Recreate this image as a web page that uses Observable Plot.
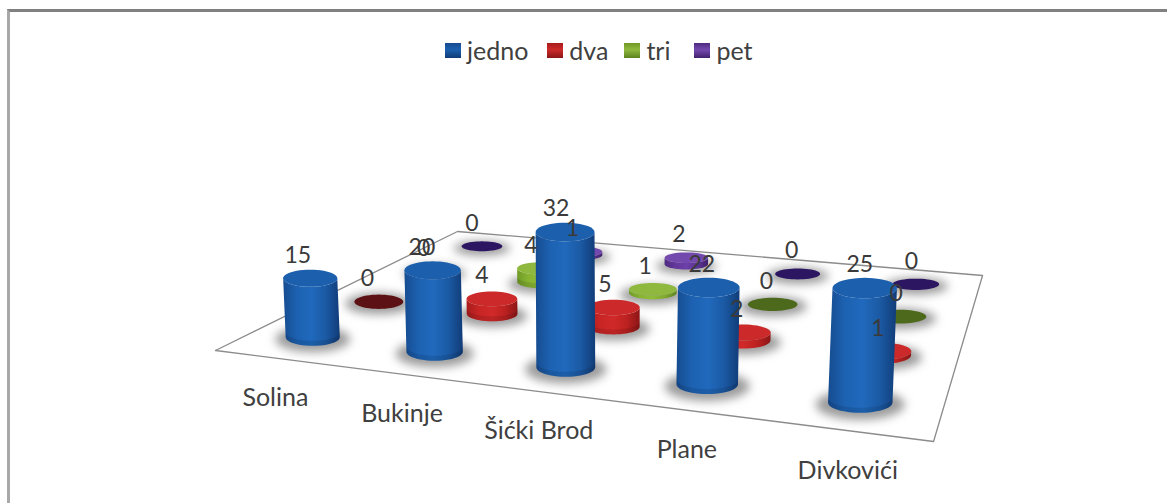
<!DOCTYPE html>
<html>
<head>
<meta charset="utf-8">
<script src="https://cdn.jsdelivr.net/npm/d3@7"></script>
<script src="https://cdn.jsdelivr.net/npm/@observablehq/plot@0.6"></script>
<style>
  html, body { margin: 0; padding: 0; background: #fff; }
  #chart { position: relative; width: 1167px; height: 503px; overflow: hidden; font-family: Lato, "Open Sans", sans-serif; }
  #frame { position: absolute; left: 7px; top: 9px; width: 1170px; height: 520px; box-sizing: border-box;
           border-top: 3px solid #808080; border-left: 3px solid #a8a8a8; }
  #legend { position: absolute; top: 35px; left: 445px; display: flex; align-items: center; font-size: 25px; color: #404040; line-height: 30px; }
  #legend span.item { display: flex; align-items: center; }
  #legend span.item:nth-child(1) { margin-right: 19px; }
  #legend span.item:nth-child(2) { margin-right: 16px; }
  #legend span.item:nth-child(3) { margin-right: 24px; }
  #legend i { display: inline-block; width: 16px; height: 15px; margin-right: 6px; }
  svg { position: absolute; left: 0; top: 0; }
</style>
</head>
<body>
<div id="chart"><div id="frame"></div><div id="legend"></div></div>
<script>
// Villages and household-size series
const villages = ["Solina", "Bukinje", "Šićki Brod", "Plane", "Divkovići"];
const seriesNames = ["jedno", "dva", "tri", "pet"];
const jedno = [15, 20, 32, 22, 25];
const dva = [0, 4, 5, 2, 1];
const tri = [0, 4, 1, 0, 0];
const pet = [0, 1, 2, 0, 0];
const seriesValues = [jedno, dva, tri, pet];

// Colours per series: side shading stops, lid, lid when the value is zero
const palette = [
  {side: ["#164c90", "#1d62b2", "#2069bc", "#1b5aa4", "#113c78"], lid: "#1c5fac", zero: "#1c5fac"},
  {side: ["#a81c1c", "#c92525", "#d12929", "#bd2121", "#8c1616"], lid: "#cc2a2a", zero: "#5c1214"},
  {side: ["#6f9a26", "#88b432", "#90bc38", "#80a82e", "#5e8420"], lid: "#8fb83f", zero: "#4d6a1c"},
  {side: ["#4e2a80", "#63389c", "#6c40a8", "#5c3494", "#42226e"], lid: "#7449ae", zero: "#2c1561"}
];

// Floor plane: maps (u along villages, v into depth) to the page through a perspective homography
const H = {a: 549, b: 417.7, c: 215, d: 11.1, e: -30.2, f: 350, g: -0.1812, h: 0.3845};
const depth = (u, v) => H.g * u + H.h * v + 1;
const floorPoint = (u, v) => ({
  x: (H.a * u + H.b * v + H.c) / depth(u, v),
  y: (H.d * u + H.e * v + H.f) / depth(u, v)
});
const unitHeight = 4.05;

// Geometry of one cylinder in page units
function cylinder(i, s, value) {
  const u = (i + 0.5) / villages.length;
  const v = (s + 0.5) / seriesNames.length;
  const w = depth(u, v);
  const base = floorPoint(u, v);
  const h = (unitHeight * value) / w;
  const rx = 28 / Math.pow(w, 1.15);
  const ry = rx * (0.33 - 0.1 * v);
  const top = {x: base.x + (base.x - 600) * h * 0.00015, y: base.y - h};
  return {id: `${i}-${s}`, village: villages[i], series: seriesNames[s], value, s, base, top, rx, ry};
}

const cylinders = seriesValues.flatMap((vals, s) => vals.map((value, i) => cylinder(i, s, value)));

const angles = d3.range(0, 25).map((k) => (k / 24) * Math.PI);

// Lower half of the silhouette between the lid and the base
const sideRows = (c) => angles.map((t) => ({
  id: c.id,
  x1: c.top.x + c.rx * Math.cos(t), y1: c.top.y + c.ry * Math.sin(t),
  x2: c.base.x + c.rx * Math.cos(t), y2: c.base.y + c.ry * Math.sin(t)
}));
// Darker band that rounds off the foot of a tall cylinder
const footRows = (c) => angles.map((t) => ({
  id: c.id,
  x1: c.base.x + c.rx * Math.cos(t), y1: c.base.y - 5 + c.ry * Math.sin(t),
  x2: c.base.x + c.rx * Math.cos(t), y2: c.base.y + c.ry * Math.sin(t)
}));
// Full ellipse as a two-sided area
const discRows = (c, center, grow = 1, stretch = 1, dy = 0) => angles.map((t) => ({
  id: c.id,
  x1: center.x + grow * c.rx * Math.cos(t), y1: center.y + dy - stretch * c.ry * Math.sin(t),
  x2: center.x + grow * c.rx * Math.cos(t), y2: center.y + dy + stretch * c.ry * Math.sin(t)
}));

const areaOpts = (fill, extra = {}) => ({x1: "x1", y1: "y1", x2: "x2", y2: "y2", z: "id", fill, ...extra});

// Shading defs shared by the cylinder sides
const gradients = () => {
  const defs = d3.create("svg:defs");
  palette.forEach((p, s) => {
    const g = defs.append("linearGradient").attr("id", `side-${s}`).attr("x1", 0).attr("x2", 1).attr("y1", 0).attr("y2", 0);
    p.side.forEach((c, k) => g.append("stop").attr("offset", k / (p.side.length - 1)).attr("stop-color", c));
  });
  return defs.node();
};

const floorCorners = [[0, 0], [1, 0], [1, 1], [0, 1], [0, 0]].map(([u, v]) => floorPoint(u, v));

const marks = [
  gradients,
  Plot.line(floorCorners, {x: "x", y: "y", stroke: "#8c8c8c", strokeWidth: 1.3, fill: "#fff"}),
  // Soft contact shadows on the floor
  Plot.area(cylinders.flatMap((c) => discRows(c, c.base, 1.38, 1.5, 2)),
    areaOpts("#5a5a5a", {fillOpacity: 0.6, imageFilter: "blur(5px)"}))
];

// Paint from the back row to the front row
for (let s = seriesNames.length - 1; s >= 0; --s) {
  const row = cylinders.filter((c) => c.s === s);
  const raised = row.filter((c) => c.value > 0);
  const flat = row.filter((c) => c.value === 0);
  marks.push(
    Plot.area(raised.flatMap(sideRows), areaOpts(`url(#side-${s})`)),
    Plot.area(raised.filter((c) => c.value > 3).flatMap(footRows), areaOpts("#000", {fillOpacity: 0.1})),
    Plot.area(raised.flatMap((c) => discRows(c, c.top)), areaOpts(palette[s].lid)),
    Plot.area(flat.flatMap((c) => discRows(c, c.top)), areaOpts(palette[s].zero))
  );
}

// Value labels sit above each lid, nudged towards the viewer's left
marks.push(
  Plot.text(cylinders, {
    x: (c) => c.top.x - 13 + ((c.top.x - 300) / 600) * 8,
    y: (c) => c.top.y - 23.5,
    text: (c) => String(c.value),
    fontSize: 23, fill: "#3a3a3a", fontFamily: "Lato, 'Open Sans', sans-serif"
  }),
  // Village names hang below the front edge of the floor
  Plot.text(villages, {
    x: (d, i) => floorPoint((i + 0.5) / villages.length, 0).x,
    y: (d, i) => floorPoint((i + 0.5) / villages.length, 0).y + 40,
    text: (d) => d,
    fontSize: 25, fill: "#404040", fontFamily: "Lato, 'Open Sans', sans-serif"
  })
);

const plot = Plot.plot({
  width: 1167, height: 503,
  margin: 0,
  x: {domain: [0, 1167], range: [0, 1167], axis: null},
  y: {domain: [0, 503], range: [0, 503], axis: null},
  style: {background: "transparent", overflow: "visible"},
  marks
});
document.getElementById("chart").appendChild(plot);

// Legend row
const legend = d3.select("#legend");
seriesNames.forEach((name, s) => {
  const item = legend.append("span").attr("class", "item");
  item.append("i").style("background", `linear-gradient(180deg, ${palette[s].side[0]}, ${palette[s].lid} 45%, ${palette[s].side[4]})`);
  item.append("span").text(name);
});
</script>
</body>
</html>
